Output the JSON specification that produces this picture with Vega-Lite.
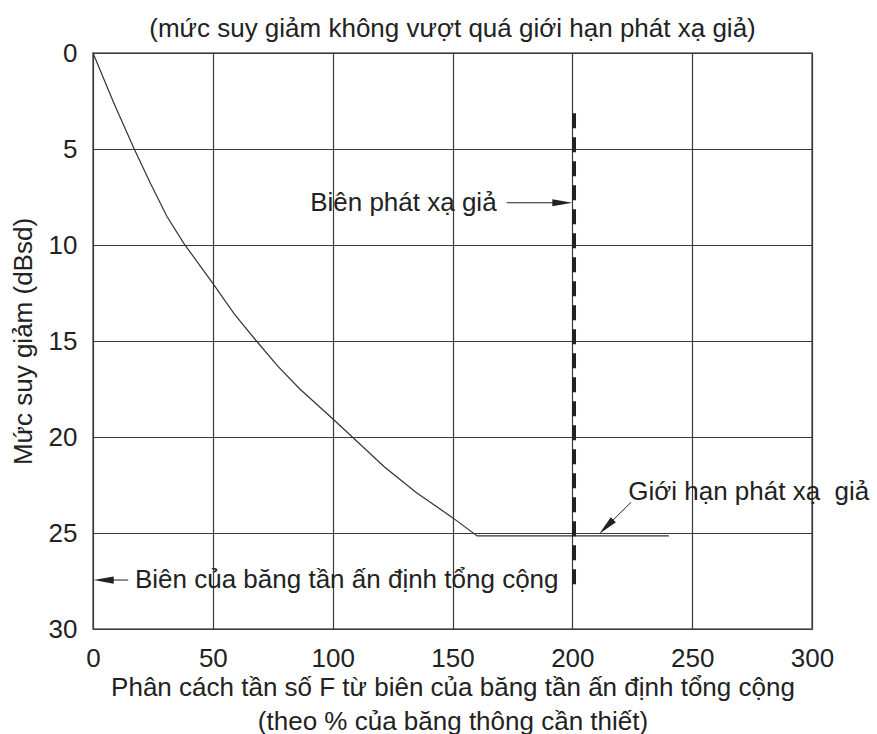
{
  "$schema": "https://vega.github.io/schema/vega-lite/v6.json",
  "autosize": "none",
  "width": 719,
  "height": 576,
  "padding": {"left": 93, "top": 53, "right": 65, "bottom": 105},
  "background": "white",
  "title": {
    "text": "(mức suy giảm không vượt quá giới hạn phát xạ giả)",
    "fontSize": 26,
    "fontWeight": "normal",
    "color": "#222222",
    "anchor": "middle",
    "baseline": "alphabetic",
    "offset": -23
  },
  "datasets": {
    "mask": [
      {"F": 0, "A": 0},
      {"F": 8.5, "A": 2.55},
      {"F": 17.2, "A": 5},
      {"F": 24, "A": 6.8},
      {"F": 30.8, "A": 8.5},
      {"F": 38.1, "A": 9.95},
      {"F": 50, "A": 12},
      {"F": 59, "A": 13.6},
      {"F": 68.2, "A": 15},
      {"F": 77, "A": 16.3},
      {"F": 86.3, "A": 17.5},
      {"F": 100, "A": 19.05},
      {"F": 108.2, "A": 20},
      {"F": 121.5, "A": 21.55},
      {"F": 135, "A": 22.9},
      {"F": 150, "A": 24.2},
      {"F": 160.3, "A": 25.15},
      {"F": 240.3, "A": 25.15}
    ],
    "boundary": [{"F": 200.7, "A1": 3.14, "A2": 27.97}],
    "labels": [
      {"id": "spur", "text": "Biên phát xạ giả", "F": 168.4, "A": 7.8},
      {"id": "limit", "text": "Giới hạn phát xạ\u00a0 giả", "F": 223.3, "A": 22.85},
      {"id": "edge", "text": "Biên của băng tần ấn định tổng cộng", "F": 17.5, "A": 27.45}
    ],
    "shafts": [
      {"id": "spur", "F1": 172.6, "A1": 7.8, "F2": 195, "A2": 7.8},
      {"id": "limit", "F1": 224.5, "A1": 23.4, "F2": 216, "A2": 24.45},
      {"id": "edge", "F1": 14.7, "A1": 27.45, "F2": 5, "A2": 27.45}
    ],
    "heads": [
      {"id": "spur", "F": 200, "A": 7.8},
      {"id": "limit", "F": 211.2, "A": 25.05},
      {"id": "edge", "F": 0.3, "A": 27.45}
    ]
  },
  "config": {
    "font": "Liberation Sans",
    "view": {"stroke": "#8a8a8a", "strokeWidth": 2}
  },
  "layer": [
    {
      "data": {"name": "mask"},
      "mark": {"type": "line", "color": "#333333", "strokeWidth": 1.2, "clip": false},
      "encoding": {
        "x": {
          "field": "F", "type": "quantitative",
          "scale": {"domain": [0, 300], "nice": false, "zero": false},
          "axis": {
            "values": [0, 50, 100, 150, 200, 250, 300],
            "ticks": false, "domain": false, "grid": true,
            "gridColor": "#3a3a3a", "gridWidth": 1.2,
            "labelFontSize": 26, "labelColor": "#222222", "labelPadding": 16,
            "labelFlush": false, "labelOverlap": false,
            "title": ["Phân cách tần số F từ biên của băng tần ấn định tổng cộng", "(theo % của băng thông cần thiết)"],
            "titleFontSize": 26, "titleFontWeight": "normal", "titleColor": "#222222",
            "titleLineHeight": 34, "titlePadding": 3
          }
        },
        "y": {
          "field": "A", "type": "quantitative",
          "scale": {"domain": [0, 30], "reverse": true, "nice": false, "zero": false},
          "axis": {
            "values": [0, 5, 10, 15, 20, 25, 30],
            "ticks": false, "domain": false, "grid": true,
            "gridColor": "#3a3a3a", "gridWidth": 1.2,
            "labelFontSize": 26, "labelColor": "#222222", "labelPadding": 16,
            "labelFlush": false, "labelOverlap": false,
            "title": "Mức suy giảm (dBsd)",
            "titleFontSize": 26, "titleFontWeight": "normal", "titleColor": "#222222",
            "titlePadding": 12
          }
        },
        "order": {"field": "F", "type": "quantitative"}
      }
    },
    {
      "data": {"name": "boundary"},
      "mark": {"type": "rule", "color": "#222222", "strokeWidth": 4, "strokeDash": [15, 9]},
      "encoding": {
        "x": {"field": "F", "type": "quantitative"},
        "y": {"field": "A1", "type": "quantitative"},
        "y2": {"field": "A2"}
      }
    },
    {
      "data": {"name": "shafts"},
      "mark": {"type": "rule", "color": "#222222", "strokeWidth": 1},
      "encoding": {
        "x": {"field": "F1", "type": "quantitative"},
        "y": {"field": "A1", "type": "quantitative"},
        "x2": {"field": "F2"},
        "y2": {"field": "A2"}
      }
    },
    {
      "data": {"name": "heads"},
      "transform": [{"filter": "datum.id === 'spur'"}],
      "mark": {"type": "point", "shape": "M0,0L-2,-0.36L-2,0.36Z", "filled": true, "color": "#222222", "opacity": 1, "size": 400, "angle": 0, "strokeWidth": 0},
      "encoding": {
        "x": {"field": "F", "type": "quantitative"},
        "y": {"field": "A", "type": "quantitative"}
      }
    },
    {
      "data": {"name": "heads"},
      "transform": [{"filter": "datum.id === 'limit'"}],
      "mark": {"type": "point", "shape": "M0,0L-2,-0.36L-2,0.36Z", "filled": true, "color": "#222222", "opacity": 1, "size": 400, "angle": 135, "strokeWidth": 0},
      "encoding": {
        "x": {"field": "F", "type": "quantitative"},
        "y": {"field": "A", "type": "quantitative"}
      }
    },
    {
      "data": {"name": "heads"},
      "transform": [{"filter": "datum.id === 'edge'"}],
      "mark": {"type": "point", "shape": "M0,0L-2,-0.36L-2,0.36Z", "filled": true, "color": "#222222", "opacity": 1, "size": 400, "angle": 180, "strokeWidth": 0},
      "encoding": {
        "x": {"field": "F", "type": "quantitative"},
        "y": {"field": "A", "type": "quantitative"}
      }
    },
    {
      "data": {"name": "labels"},
      "transform": [{"filter": "datum.id === 'spur'"}],
      "mark": {"type": "text", "fontSize": 26, "color": "#222222", "align": "right", "baseline": "middle"},
      "encoding": {
        "x": {"field": "F", "type": "quantitative"},
        "y": {"field": "A", "type": "quantitative"},
        "text": {"field": "text"}
      }
    },
    {
      "data": {"name": "labels"},
      "transform": [{"filter": "datum.id !== 'spur'"}],
      "mark": {"type": "text", "fontSize": 26, "color": "#222222", "align": "left", "baseline": "middle"},
      "encoding": {
        "x": {"field": "F", "type": "quantitative"},
        "y": {"field": "A", "type": "quantitative"},
        "text": {"field": "text"}
      }
    }
  ]
}
